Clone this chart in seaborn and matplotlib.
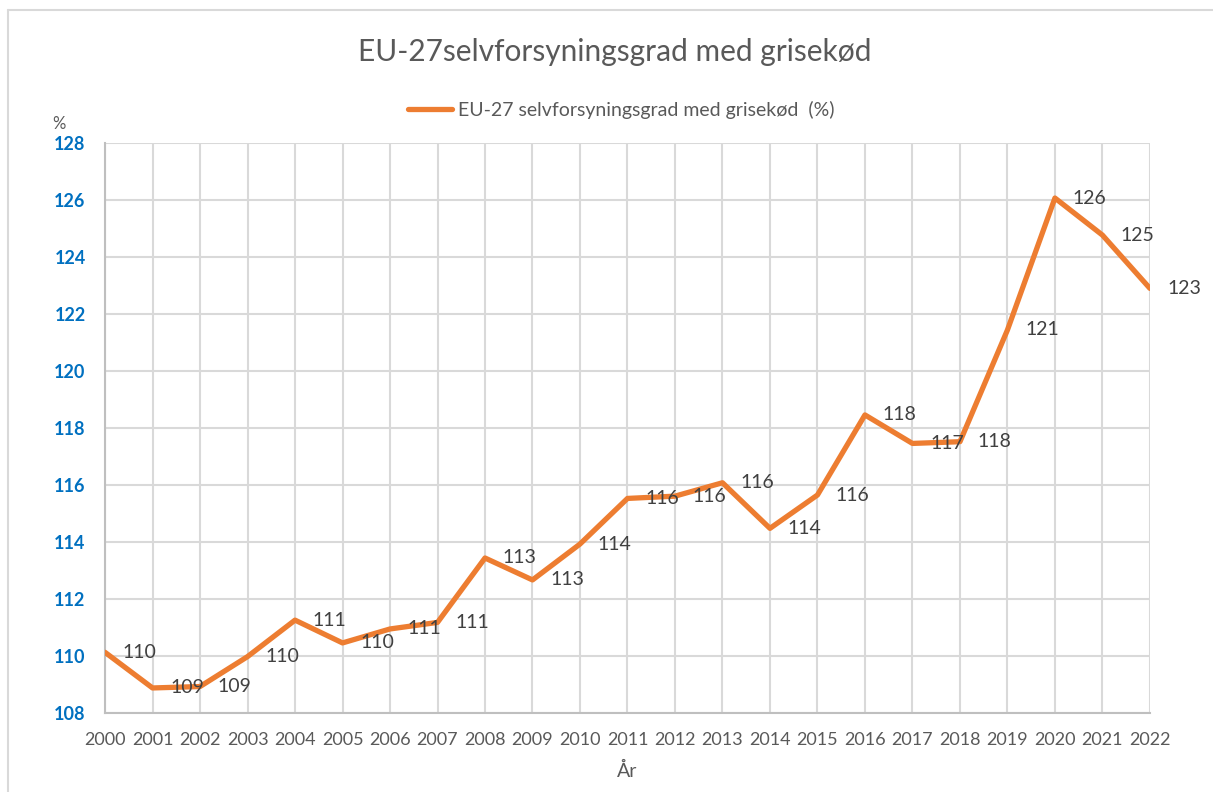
import matplotlib
matplotlib.use("Agg")
import matplotlib.pyplot as plt
import seaborn as sns
import pandas as pd
from matplotlib.lines import Line2D

years = list(range(2000, 2023))
values = [110.13, 108.88, 108.93, 109.98, 111.26, 110.46, 110.95, 111.18, 113.44, 112.67,
          113.93, 115.53, 115.61, 116.08, 114.48, 115.65, 118.46, 117.46, 117.52, 121.44,
          126.07, 124.77, 122.90]
series_name = "EU-27 selvforsyningsgrad med grisekød  (%)"
title = "EU-27selvforsyningsgrad med grisekød"
yticks = [108, 110, 112, 114, 116, 118, 120, 122, 124, 126, 128]

sns.set_style("white")
plt.rcParams['font.family'] = ['Lato', 'DejaVu Sans']

df = pd.DataFrame({"År": years, "value": values, "serie": series_name})

fig = plt.figure(figsize=(12.13, 7.92), dpi=100)
ax = fig.add_axes([0.0866, 0.0997, 0.948 - 0.0866, 0.8194 - 0.0997])

grid_c = "#D9D9D9"
text_c = "#595959"
orange = "#ED7D31"

sns.lineplot(data=df, x="År", y="value", ax=ax, color=orange, linewidth=3.8,
             legend=False, zorder=3)

ax.set_xlim(years[0], years[-1])
ax.set_ylim(yticks[0], yticks[-1])
ax.set_xticks(years)
ax.set_xticklabels([str(y) for y in years], fontsize=13, color=text_c)
ax.set_yticks(yticks)
ax.set_yticklabels([str(v) for v in yticks], fontsize=13, color="#0070C0", fontweight="bold")
ax.tick_params(axis="both", length=0)
ax.tick_params(axis="x", pad=14)
ax.tick_params(axis="y", pad=14)
ax.grid(True, color=grid_c, linewidth=1.5)
ax.set_axisbelow(True)
for s in ["top", "right"]:
    ax.spines[s].set_visible(False)
for s in ["left", "bottom"]:
    ax.spines[s].set_color("#BFBFBF")
    ax.spines[s].set_linewidth(1.5)

ax.set_xlabel("År", fontsize=14, color=text_c, labelpad=10)
ax.set_ylabel("")

for x, v in zip(years, values):
    ax.annotate(f"{round(v):d}", (x, v), xytext=(25, 0), textcoords="offset points",
                ha="center", va="center", fontsize=14, color="#404040", zorder=4)

fig.text(0.507, 0.934, title, ha="center", va="center", fontsize=21.5, color=text_c)
fig.text(0.049, 0.843, "%", ha="center", va="center", fontsize=12, color=text_c)

handle = Line2D([0], [0], color=orange, linewidth=3.8)
fig.legend([handle], [series_name], loc="center", bbox_to_anchor=(0.512, 0.861),
           frameon=False, fontsize=14, labelcolor=text_c, handlelength=2.3,
           handletextpad=0.3)

# outer chart border (cropped at right/bottom)
fig.add_artist(Line2D([0.007, 1.0], [0.987, 0.987], transform=fig.transFigure,
                      color="#D9D9D9", linewidth=1.5))
fig.add_artist(Line2D([0.007, 0.007], [0.0, 0.987], transform=fig.transFigure,
                      color="#D9D9D9", linewidth=1.5))

fig.savefig("out.png", dpi=100, facecolor="white")
